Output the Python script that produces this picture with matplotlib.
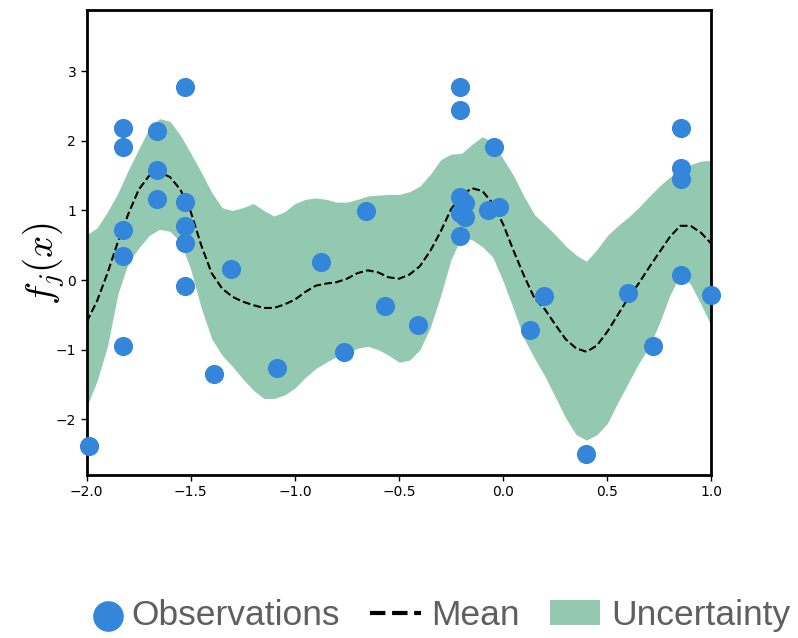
import numpy as np
import matplotlib.pyplot as plt
from matplotlib.lines import Line2D
from matplotlib.legend_handler import HandlerPathCollection

plt.rcParams['mathtext.fontset'] = 'cm'

# observed samples
obs_x = [-1.824, -1.824, -1.824, -1.824, -1.824,
         -1.664, -1.664, -1.664,
         -1.528, -1.528, -1.528, -1.528, -1.528,
         -1.99, -1.309, -1.389, -1.088, -0.877, -0.766, -0.659, -0.568,
         -0.411, -0.208, -0.208, -0.208, -0.184, -0.208, -0.184, -0.208,
         -0.072, -0.021, -0.045, 0.197, 0.127, 0.397, 0.597, 0.717,
         0.852, 0.852, 0.852, 0.852, 0.996]
obs_y = [2.18, 1.905, 0.713, 0.34, -0.944,
         2.135, 1.575, 1.163,
         2.78, 1.12, 0.77, 0.54, -0.078,
         -2.38, 0.158, -1.35, -1.26, 0.259, -1.035, 0.986, -0.369,
         -0.652, 2.78, 2.447, 1.19, 1.106, 0.963, 0.905, 0.627,
         1.01, 1.043, 1.905, -0.235, -0.724, -2.496, -0.187, -0.94,
         2.18, 1.61, 1.456, 0.08, -0.22]

# posterior mean and band on a grid
grid_x = [-2.00, -1.95, -1.90, -1.85, -1.80, -1.75, -1.70, -1.65, -1.60, -1.55,
          -1.50, -1.45, -1.40, -1.35, -1.30, -1.25, -1.20, -1.15, -1.10, -1.05,
          -1.00, -0.95, -0.90, -0.85, -0.80, -0.75, -0.70, -0.65, -0.60, -0.55,
          -0.50, -0.45, -0.40, -0.35, -0.30, -0.25, -0.20, -0.15, -0.10, -0.05,
          0.00, 0.05, 0.10, 0.15, 0.20, 0.25, 0.30, 0.35, 0.40, 0.45,
          0.50, 0.55, 0.60, 0.65, 0.70, 0.75, 0.80, 0.85, 0.90, 0.95, 1.00]
mean = [-0.60, -0.30, 0.10, 0.55, 0.95, 1.30, 1.50, 1.55, 1.48, 1.30,
        0.98, 0.50, 0.10, -0.12, -0.24, -0.31, -0.36, -0.40, -0.40, -0.35,
        -0.28, -0.17, -0.08, -0.05, -0.03, 0.02, 0.10, 0.14, 0.11, 0.04,
        0.02, 0.08, 0.20, 0.42, 0.70, 1.02, 1.22, 1.32, 1.28, 1.10,
        0.80, 0.42, 0.06, -0.26, -0.42, -0.64, -0.85, -0.98, -1.03, -0.94,
        -0.74, -0.50, -0.26, -0.05, 0.18, 0.40, 0.62, 0.78, 0.78, 0.68, 0.52]
upper = [0.65, 0.75, 0.98, 1.25, 1.58, 1.88, 2.18, 2.32, 2.28, 2.08,
         1.82, 1.55, 1.26, 1.04, 1.00, 1.04, 1.10, 1.00, 0.92, 0.98,
         1.10, 1.16, 1.18, 1.16, 1.12, 1.12, 1.16, 1.21, 1.22, 1.23,
         1.23, 1.27, 1.35, 1.52, 1.73, 1.81, 1.82, 1.95, 2.06, 1.98,
         1.74, 1.50, 1.20, 0.94, 0.80, 0.65, 0.49, 0.36, 0.27, 0.44,
         0.64, 0.78, 0.90, 1.04, 1.20, 1.35, 1.48, 1.58, 1.66, 1.71, 1.72]
lower = [-1.82, -1.45, -0.95, -0.20, 0.25, 0.46, 0.64, 0.73, 0.70, 0.55,
         0.15, -0.40, -0.84, -1.08, -1.24, -1.42, -1.58, -1.70, -1.70, -1.65,
         -1.55, -1.40, -1.27, -1.18, -1.10, -1.05, -0.98, -0.95, -1.00, -1.08,
         -1.18, -1.15, -1.00, -0.68, -0.22, 0.30, 0.62, 0.58, 0.48, 0.33,
         -0.02, -0.42, -0.84, -1.12, -1.38, -1.68, -1.98, -2.22, -2.30, -2.22,
         -2.06, -1.76, -1.48, -1.20, -0.96, -0.62, -0.22, 0.08, -0.06, -0.35, -0.66]

fig = plt.figure(figsize=(7.98, 6.38), dpi=100)
ax = fig.add_axes([0.1086, 0.2555, 0.783, 0.7288])

band = ax.fill_between(grid_x, lower, upper, color='#92c9b0', linewidth=0,
                       label='Uncertainty', zorder=1)
ax.plot(grid_x, mean, 'k--', linewidth=1.5, zorder=2)
pts = ax.scatter(obs_x, obs_y, s=190, color='#3486db', linewidths=0,
                 label='Observations', zorder=3, clip_on=False)

ax.set_xlim(-2, 1)
ax.set_ylim(-2.8, 3.88)
ax.set_xticks([-2.0, -1.5, -1.0, -0.5, 0.0, 0.5, 1.0])
ax.set_yticks([-2, -1, 0, 1, 2, 3])
ax.tick_params(labelsize=10, length=4, width=1)
for s in ax.spines.values():
    s.set_linewidth(2)
ax.set_ylabel('$f_j(x)$', fontsize=28)
ax.yaxis.set_label_coords(-0.031, 0.455)

# thicker proxy so the legend shows three bold dashes
mean_handle = Line2D([], [], color='k', linestyle='--', linewidth=3, label='Mean')

leg = fig.legend(handles=[pts, mean_handle, band], loc='center left',
                 bbox_to_anchor=(0.071, 0.035), ncol=3, frameon=False,
                 prop={'family': 'Liberation Sans', 'size': 25.5},
                 handlelength=1.42, handletextpad=0.3, columnspacing=0.85,
                 markerscale=1.6, borderaxespad=0,
                 handler_map={pts: HandlerPathCollection(xpad=0.7)})
for t in leg.get_texts():
    t.set_color('#5f5f5f')

fig.savefig('out.png', dpi=100)
